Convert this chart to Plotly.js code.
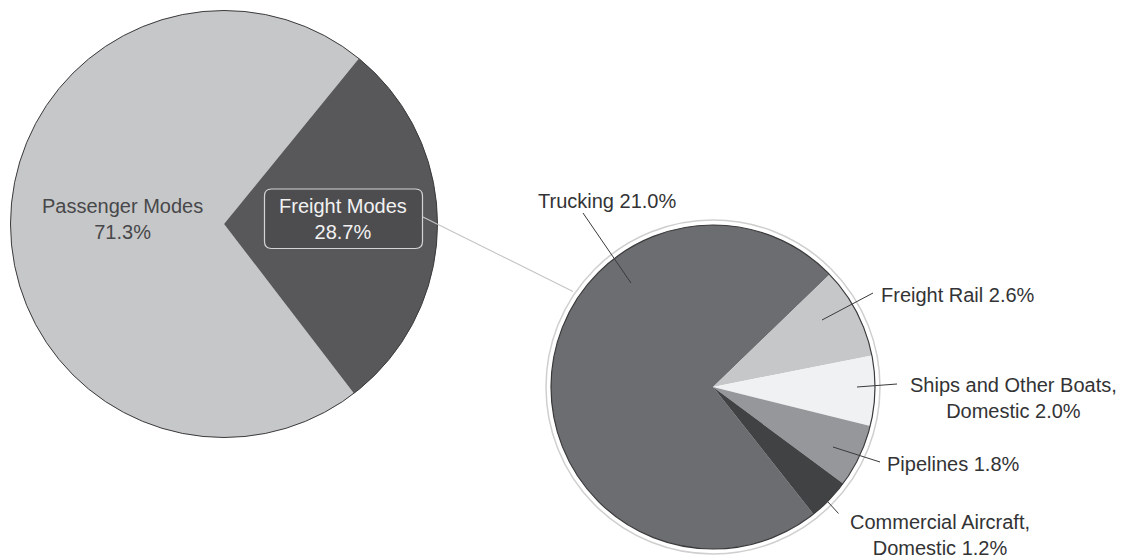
<!DOCTYPE html>
<html>
<head>
<meta charset="utf-8">
<script src="https://cdn.plot.ly/plotly-3.0.1.min.js"></script>
<style>html,body{margin:0;padding:0;background:#fff;}#chart{width:1124px;height:558px;}</style>
</head>
<body>
<div id="chart"></div>
<script>
// ---- data ----
const totalLabels = ['Passenger Modes', 'Freight Modes'];
const totalValues = [71.3, 28.7];
const totalColors = ['#c6c7c9', '#58585a'];

const freightLabels = ['Trucking', 'Freight Rail', 'Ships and Other Boats, Domestic', 'Pipelines', 'Commercial Aircraft, Domestic'];
const freightValues = [21.0, 2.6, 2.0, 1.8, 1.2];
const freightColors = ['#6c6d70', '#c6c7c9', '#f0f1f3', '#96979a', '#414244'];

// ---- layout helpers (pixel -> paper) ----
const W = 1124, H = 558;
const px = x => x / W;
const py = y => 1 - y / H;

const L = {cx: 224, cy: 224, r: 213.5};
const R = {cx: 713, cy: 387, r: 162};

function domainOf(c) {
  return {x: [px(c.cx - c.r), px(c.cx + c.r)], y: [py(c.cy + c.r), py(c.cy - c.r)]};
}
function circle(c, r, color, width) {
  return {type: 'circle', xref: 'paper', yref: 'paper', layer: 'above',
    x0: px(c.cx - r), x1: px(c.cx + r), y0: py(c.cy + r), y1: py(c.cy - r),
    line: {color: color, width: width}, fillcolor: 'rgba(0,0,0,0)'};
}
function seg(x0, y0, x1, y1, color, width) {
  return {type: 'line', xref: 'paper', yref: 'paper', layer: 'above',
    x0: px(x0), y0: py(y0), x1: px(x1), y1: py(y1), line: {color: color, width: width}};
}
function roundRect(x0, y0, x1, y1, rr, fill, stroke) {
  const p = (x, y) => px(x) + ',' + py(y);
  const d = 'M ' + p(x0 + rr, y0) + ' L ' + p(x1 - rr, y0) + ' Q ' + p(x1, y0) + ' ' + p(x1, y0 + rr) +
    ' L ' + p(x1, y1 - rr) + ' Q ' + p(x1, y1) + ' ' + p(x1 - rr, y1) +
    ' L ' + p(x0 + rr, y1) + ' Q ' + p(x0, y1) + ' ' + p(x0, y1 - rr) +
    ' L ' + p(x0, y0 + rr) + ' Q ' + p(x0, y0) + ' ' + p(x0 + rr, y0) + ' Z';
  return {type: 'path', xref: 'paper', yref: 'paper', layer: 'above', path: d,
    fillcolor: fill, line: {color: stroke, width: 1.2}};
}

const FONT = 'Liberation Sans, Arial, Helvetica, sans-serif';
const FS = 20;

const traces = [
  {type: 'pie', labels: totalLabels, values: totalValues, sort: false, direction: 'clockwise',
    rotation: 142.5, marker: {colors: totalColors, line: {width: 0}}, textinfo: 'none',
    hoverinfo: 'none', showlegend: false, domain: domainOf(L)},
  {type: 'pie', labels: freightLabels, values: freightValues, sort: false, direction: 'clockwise',
    rotation: 141.7, marker: {colors: freightColors, line: {width: 0}}, textinfo: 'none',
    hoverinfo: 'none', showlegend: false, domain: domainOf(R)}
];

const fmt = v => v.toFixed(1) + '%';
const brk = s => s.replace(', ', ',<br>');

function ann(text, x, y, xanchor, color) {
  return {text: text, x: px(x), y: py(y), xref: 'paper', yref: 'paper', showarrow: false,
    xanchor: xanchor, yanchor: 'middle', align: xanchor === 'left' ? 'left' : 'center',
    font: {family: FONT, size: FS, color: color}};
}

const labelColor = '#333335';
const annotations = [
  ann(totalLabels[0] + '<br>' + fmt(totalValues[0]), 122, 219, 'center', '#48484a'),
  ann(totalLabels[1] + '<br>' + fmt(totalValues[1]), 343, 219, 'center', '#f2f2f2'),
  ann(freightLabels[0] + ' ' + fmt(freightValues[0]), 607, 201, 'center', labelColor),
  ann(freightLabels[1] + ' ' + fmt(freightValues[1]), 879, 295, 'left', labelColor),
  ann(brk(freightLabels[2] + ' ' + fmt(freightValues[2])), 1013, 398, 'center', labelColor),
  ann(freightLabels[3] + ' ' + fmt(freightValues[3]), 885, 464, 'left', labelColor),
  ann(brk(freightLabels[4] + ' ' + fmt(freightValues[4])), 940, 535, 'center', labelColor)
];

const shapes = [
  circle(L, L.r, '#3a3a3c', 1),
  circle(R, R.r, '#3a3a3c', 1.2),
  circle(R, R.r + 5, '#cfcfd0', 1.5),
  roundRect(264.5, 189, 422.5, 248.5, 7, '#4d4d4f', '#d4d4d6'),
  seg(423, 217, 573, 291.5, '#c4c4c6', 1.1),
  seg(583, 213, 631, 283, '#3a3a3c', 1),
  seg(822, 320, 873, 293, '#3a3a3c', 1),
  seg(857, 387, 897, 384, '#3a3a3c', 1),
  seg(833, 447, 880, 462, '#3a3a3c', 1),
  seg(828, 502, 838.5, 513.5, '#3a3a3c', 1)
];

const layout = {
  width: W, height: H, margin: {l: 0, r: 0, t: 0, b: 0},
  paper_bgcolor: '#ffffff', plot_bgcolor: '#ffffff',
  showlegend: false, shapes: shapes, annotations: annotations,
  font: {family: FONT}
};

Plotly.newPlot('chart', traces, layout, {displayModeBar: false, staticPlot: true});
</script>
</body>
</html>
